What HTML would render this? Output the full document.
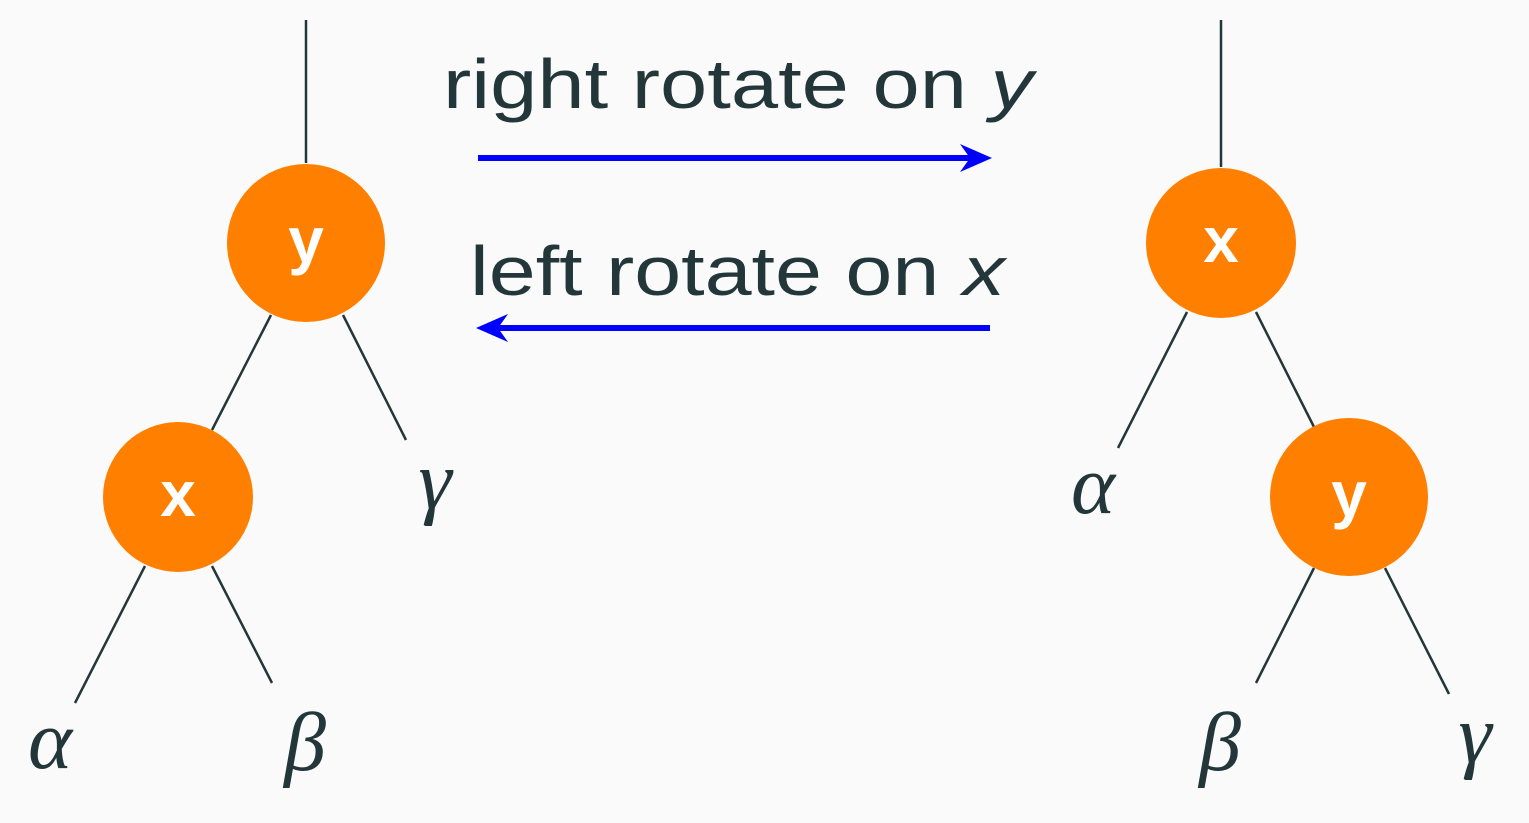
<!DOCTYPE html>
<html><head><meta charset="utf-8"><style>
html,body{margin:0;padding:0;background:#fafafa;}
svg{display:block;}
</style></head><body>
<svg width="1529" height="823" viewBox="0 0 1529 823" xmlns="http://www.w3.org/2000/svg">
<rect width="1529" height="823" fill="#fafafa"/>
<g stroke="#23373b" stroke-width="2.5" fill="none">
<line x1="306" y1="20" x2="306" y2="163"/>
<line x1="271" y1="315" x2="212" y2="430"/>
<line x1="343" y1="315" x2="406" y2="440"/>
<line x1="145" y1="566" x2="75" y2="703"/>
<line x1="212" y1="566" x2="272" y2="683"/>
<line x1="1221" y1="20" x2="1221" y2="167"/>
<line x1="1187" y1="312" x2="1118" y2="448"/>
<line x1="1256" y1="312" x2="1314" y2="427"/>
<line x1="1314" y1="568" x2="1256" y2="683"/>
<line x1="1385" y1="568" x2="1449" y2="694"/>
</g>
<g fill="#ff8000">
<circle cx="306" cy="243" r="79"/>
<circle cx="178" cy="497" r="75"/>
<circle cx="1221" cy="243" r="75"/>
<circle cx="1349" cy="497" r="79"/>
</g>
<g fill="#ffffff" font-family="Liberation Sans, sans-serif" font-weight="bold" font-size="64" text-anchor="middle">
<text x="306" y="262">y</text>
<text x="178" y="516">x</text>
<text x="1221" y="262">x</text>
<text x="1349" y="516">y</text>
</g>
<g fill="#23373b" font-family="Liberation Serif, serif" font-style="italic" font-size="84" text-anchor="middle">
<text x="435" y="508">γ</text>
<text x="50" y="768">α</text>
<text x="305" y="770">β</text>
<text x="1093" y="513">α</text>
<text x="1220" y="770">β</text>
<text x="1475" y="762">γ</text>
</g>
<g fill="#23373b" font-family="Liberation Sans, sans-serif" font-size="70">
<text x="443" y="108" textLength="590" lengthAdjust="spacingAndGlyphs">right rotate on <tspan font-style="italic">y</tspan></text>
<text x="470" y="295" textLength="535" lengthAdjust="spacingAndGlyphs">left rotate on <tspan font-style="italic">x</tspan></text>
</g>
<g stroke="#0000ff" stroke-width="6" fill="none">
<line x1="478" y1="158" x2="985" y2="158"/>
<line x1="484" y1="328" x2="990" y2="328"/>
</g>
<path d="M992,158 L960,144 L970,158 L960,172 Z" fill="#0000ff"/>
<path d="M476,328 L508,314 L498,328 L508,342 Z" fill="#0000ff"/>
</svg>
</body></html>
